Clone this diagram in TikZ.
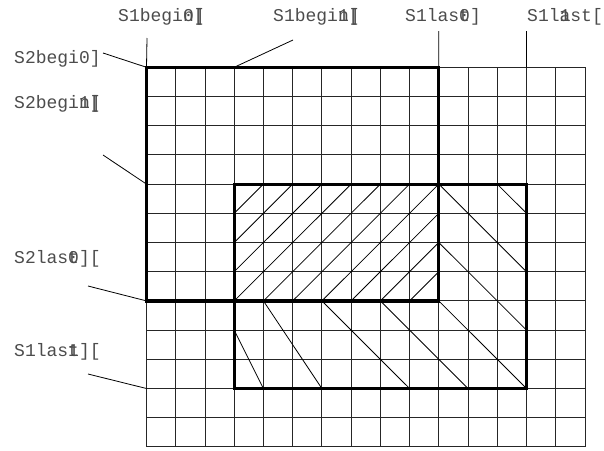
\documentclass[tikz,border=0pt]{standalone}
\usepackage{fontspec}
\newfontfamily\labfont{Liberation Mono}
\begin{document}
\begin{tikzpicture}[x=1pt,y=-1pt,
  gridline/.style={draw=black!85,line width=0.9pt},
  hatch/.style={draw=black,line width=0.8pt},
  thickbox/.style={draw=black,line width=3.2pt},
  leader/.style={draw=black,line width=0.8pt},
  lab/.style={anchor=base west,inner sep=0pt,text=black!70,font=\fontsize{18}{20}\labfont}]
\useasboundingbox (0,0) rectangle (604,450);
% grid coordinates
\foreach \c in {0,...,15}{\foreach \r in {0,...,13}{
  \coordinate (g-\c-\r) at ({146.5+29.23*\c},{67.3+29.2*\r});}}
% grid
\foreach \c in {0,...,15}{\draw[gridline] (g-\c-0) -- (g-\c-13);}
\foreach \r in {0,...,13}{\draw[gridline] (g-0-\r) -- (g-15-\r);}
% "/" hatch in the overlap
\foreach \s in {8,...,17}{
  \pgfmathtruncatemacro\ra{min(8,\s-3)}\pgfmathtruncatemacro\ca{\s-\ra}
  \pgfmathtruncatemacro\rb{max(4,\s-10)}\pgfmathtruncatemacro\cb{\s-\rb}
  \draw[hatch] (g-\ca-\ra) -- (g-\cb-\rb);}
% "\" hatch
\foreach \a/\b/\c/\d in {3/9/4/11,4/8/6/11,6/8/9/11,8/8/11/11,10/8/13/11,10/4/13/7,12/4/13/5,10/6/13/9}{
  \draw[hatch] (g-\a-\b) -- (g-\c-\d);}
% thick boxes
\draw[thickbox] (g-0-0) rectangle (g-10-8);
\draw[thickbox] (g-3-4) rectangle (g-13-11);
% leader ends
\coordinate (t1) at (147,38);
\coordinate (t2) at (293,40);
\coordinate (t3) at (438.8,31);
\coordinate (t4) at (526.5,31);
\coordinate (l1) at (103,53);
\coordinate (l2) at (103,155);
\coordinate (l3) at (88,286);
\coordinate (l4) at (88,374);
\draw[leader] (t1) -- (g-0-0);
\draw[leader] (t2) -- (g-3-0);
\draw[leader] (t3) -- (g-10-0);
\draw[leader] (t4) -- (g-13-0);
\draw[leader] (l1) -- (g-0-0);
\draw[leader] (l2) -- (g-0-4);
\draw[leader] (l3) -- (g-0-8);
\draw[leader] (l4) -- (g-0-11);
% labels
\node[lab] (a1) at (118,21) {S1begi\rlap{n}0\rlap{]}[};
\node[lab] (a2) at (273,21) {S1begi\rlap{n}1\rlap{]}[};
\node[lab] (a3) at (405,21) {S1las\rlap{0}t]};
\node[lab] (a4) at (527,21) {S1l\rlap{1}ast[};
\node[lab] (b1) at (14,63) {S2begi0]};
\node[lab] (b2) at (14,108) {S2begi\rlap{n}1\rlap{]}[};
\node[lab] (b3) at (14,263) {S2las\rlap{0}t][};
\node[lab] (b4) at (14,356) {S1las\rlap{1}t][};
\end{tikzpicture}
\end{document}
